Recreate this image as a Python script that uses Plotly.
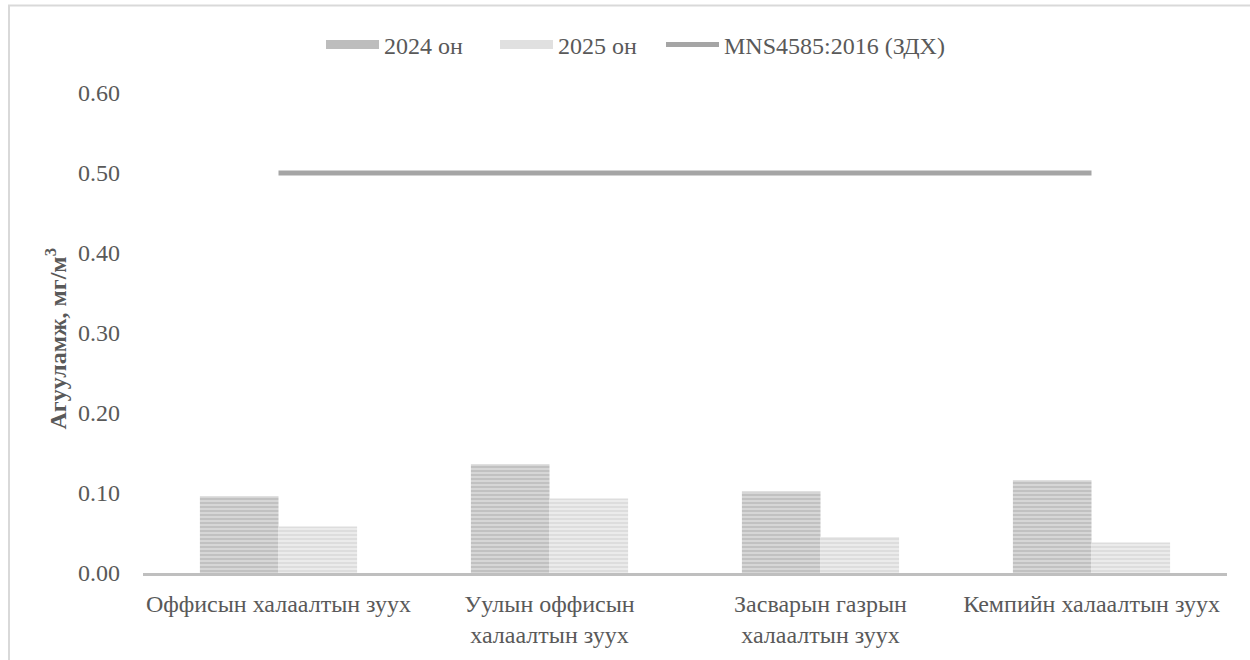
import plotly.graph_objects as go

categories = ["Оффисын халаалтын зуух", "Уулын оффисын<br>халаалтын зуух",
              "Засварын газрын<br>халаалтын зуух", "Кемпийн халаалтын зуух"]
values_2024 = [0.096, 0.136, 0.102, 0.116]
values_2025 = [0.058, 0.093, 0.045, 0.038]
standard = [0.5, 0.5, 0.5, 0.5]
series_names = ["2024 он", "2025 он", "MNS4585:2016 (ЗДХ)"]
y_ticks = [0.0, 0.1, 0.2, 0.3, 0.4, 0.5, 0.6]

FONT = "Liberation Serif, Times New Roman, serif"
TXT = "#595959"
FS = 24

fig = go.Figure()
fig.add_trace(go.Bar(
    x=categories, y=values_2024, name=series_names[0], showlegend=False,
    marker=dict(color="#d2d2d2", line=dict(width=0),
                pattern=dict(shape="-", fgcolor="#ababab", bgcolor="#d6d6d6",
                             size=4, solidity=0.5)),
))
fig.add_trace(go.Bar(
    x=categories, y=values_2025, name=series_names[1], showlegend=False,
    marker=dict(color="#e6e6e6", line=dict(width=0),
                pattern=dict(shape="-", fgcolor="#d0d0d0", bgcolor="#ebebeb",
                             size=4, solidity=0.5)),
))
# legend proxies for the bar series (wide swatches like the reference)
fig.add_trace(go.Scatter(
    x=[categories[0]], y=[None], name=series_names[0], mode="lines",
    line=dict(color="#bdbdbd", width=9), hoverinfo="skip", legend="legend",
))
fig.add_trace(go.Scatter(
    x=[categories[0]], y=[None], name=series_names[1], mode="lines",
    line=dict(color="#e0e0e0", width=9), hoverinfo="skip", legend="legend2",
))
fig.add_trace(go.Scatter(
    x=categories, y=standard, name=series_names[2], mode="lines",
    line=dict(color="#a5a5a5", width=5), legend="legend3",
))


def leg(px):
    return dict(orientation="h", x=px / 1250, xanchor="left", xref="container",
                y=1 - 45 / 660, yanchor="middle", yref="container",
                font=dict(family=FONT, size=FS, color=TXT),
                itemwidth=53, tracegroupgap=0, bgcolor="rgba(0,0,0,0)")


fig.update_layout(
    width=1250, height=660,
    margin=dict(l=143, r=23, t=93, b=84),
    paper_bgcolor="white", plot_bgcolor="white",
    barmode="group", bargap=0.42, bargroupgap=0,
    font=dict(family=FONT, size=FS, color=TXT),
    showlegend=True,
    legend=leg(321), legend2=leg(495), legend3=leg(661),
    xaxis=dict(showline=True, linecolor="#bfbfbf", linewidth=3, showgrid=False,
               ticks="", tickfont=dict(family=FONT, size=FS, color=TXT),
               ticklabelstandoff=7, fixedrange=True),
    yaxis=dict(range=[0, 0.6], tickvals=y_ticks, tickformat=".2f",
               showgrid=False, zeroline=False, showline=False, ticks="",
               tickfont=dict(family=FONT, size=FS, color=TXT),
               ticklabelstandoff=22),
    annotations=[dict(
        text="<b>Агууламж, мг/м<sup>3</sup></b>", textangle=-90,
        xref="paper", yref="paper", x=(56 - 143) / 1084, y=(576 - 340) / 483,
        xanchor="center", yanchor="middle", showarrow=False,
        font=dict(family=FONT, size=FS, color=TXT),
    )],
    shapes=[dict(type="rect", xref="paper", yref="paper",
                 x0=(9 - 143) / 1084, x1=(1262 - 143) / 1084,
                 y0=(576 - 672) / 483, y1=(576 - 5) / 483,
                 line=dict(color="#d9d9d9", width=2), fillcolor="rgba(0,0,0,0)",
                 layer="below")],
)

fig.write_html("out.html")
